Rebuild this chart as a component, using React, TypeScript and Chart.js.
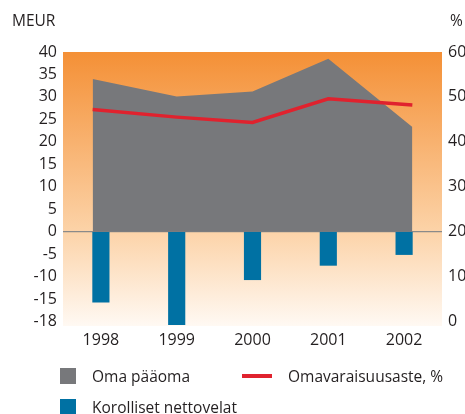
import React, { useEffect, useRef } from "react";
import { Chart, registerables } from "chart.js";

Chart.register(...registerables);

const years = ["1998", "1999", "2000", "2001", "2002"];
const equity = [34.0, 30.1, 31.2, 38.5, 23.3];
const netDebt = [-15.7, -20.7, -10.7, -7.5, -5.1];
const equityRatio = [47.2, 45.5, 44.3, 49.6, 48.2];
const leftTicks = [40, 35, 30, 25, 20, 15, 10, 5, 0, -5, -10, -15, -20];
const leftTickLabels = ["40", "35", "30", "25", "20", "15", "10", "5", "0", "-5", "-10", "-15", "-18"];
const rightTicks = [60, 50, 40, 30, 20, 10, 0];

const labelEquity = "Oma pääoma";
const labelDebt = "Korolliset nettovelat";
const labelRatio = "Omavaraisuusaste, %";

const GREY = "#77787b";
const BLUE = "#0071a3";
const RED = "#e0222e";
const FONT = "'Open Sans', 'Noto Sans', sans-serif";
const TEXT = "#231f20";

const bgPlugin = {
  id: "bgGradient",
  beforeDraw(chart: any) {
    const { ctx, chartArea } = chart;
    if (!chartArea) return;
    const { left, top, right, bottom } = chartArea;
    const g = ctx.createLinearGradient(0, top, 0, bottom);
    g.addColorStop(0, "rgb(244,144,54)");
    g.addColorStop(0.655, "rgb(252,211,168)");
    g.addColorStop(1, "rgb(255,249,243)");
    ctx.save();
    ctx.fillStyle = g;
    ctx.fillRect(left, top, right - left, bottom - top);
    ctx.restore();
  },
};

const edgePlugin = {
  id: "edgeExtend",
  afterDatasetsUpdate(chart: any) {
    const bars = chart.getDatasetMeta(0).data;
    if (!bars || !bars.length) return;
    const first = bars[0];
    const last = bars[bars.length - 1];
    [1, 2].forEach((i) => {
      const pts = chart.getDatasetMeta(i).data;
      if (!pts || !pts.length) return;
      pts[0].x = first.x - first.width / 2;
      pts[pts.length - 1].x = last.x + last.width / 2;
    });
  },
};

export default function App() {
  const ref = useRef<HTMLCanvasElement | null>(null);

  useEffect(() => {
    if (!ref.current) return;
    const chart = new Chart(ref.current, {
      type: "bar",
      data: {
        labels: years,
        datasets: [
          {
            type: "bar",
            label: labelDebt,
            data: netDebt,
            backgroundColor: BLUE,
            borderWidth: 0,
            barThickness: 16.5,
            yAxisID: "y",
            order: 1,
          },
          {
            type: "line",
            label: labelEquity,
            data: equity,
            backgroundColor: GREY,
            borderWidth: 0,
            fill: "origin",
            pointRadius: 0,
            tension: 0,
            yAxisID: "y",
            order: 3,
          },
          {
            type: "line",
            label: labelRatio,
            data: equityRatio,
            borderColor: RED,
            borderWidth: 3.5,
            fill: false,
            pointRadius: 0,
            tension: 0,
            yAxisID: "y1",
            order: 0,
          },
        ] as any,
      },
      options: {
        animation: false,
        responsive: false,
        events: [],
        layout: { padding: { top: 52, bottom: 60, left: 0, right: 0 } },
        plugins: {
          legend: { display: false },
          tooltip: { enabled: false },
        },
        scales: {
          x: {
            offset: true,
            grid: { display: false, drawTicks: false },
            border: { display: false },
            ticks: { color: TEXT, font: { family: FONT, size: 16 }, padding: 5 },
            afterFit: (s: any) => {
              s.height = 28;
            },
          },
          y: {
            position: "left",
            min: -21,
            max: 40,
            afterBuildTicks: (s: any) => {
              s.ticks = leftTicks.map((v) => ({ value: v }));
            },
            afterFit: (s: any) => {
              s.width = 63;
            },
            grid: {
              drawTicks: false,
              color: (c: any) => (c.tick && c.tick.value === 0 ? "#8a8a8a" : "rgba(0,0,0,0)"),
              lineWidth: 1.2,
            },
            border: { display: false },
            ticks: {
              color: TEXT,
              font: { family: FONT, size: 16 },
              padding: 6,
              autoSkip: false,
              callback: (v: any) => {
                const i = leftTicks.indexOf(Number(v));
                return i >= 0 ? leftTickLabels[i] : "";
              },
            },
          },
          y1: {
            position: "right",
            min: -1,
            max: 60,
            afterBuildTicks: (s: any) => {
              s.ticks = rightTicks.map((v) => ({ value: v }));
            },
            afterFit: (s: any) => {
              s.width = 23;
            },
            grid: { display: false, drawTicks: false },
            border: { display: false },
            ticks: {
              color: TEXT,
              font: { family: FONT, size: 16 },
              padding: 6,
              autoSkip: false,
              align: "center",
            },
          },
        },
      } as any,
      plugins: [bgPlugin, edgePlugin],
    });
    return () => chart.destroy();
  }, []);

  const textStyle: React.CSSProperties = {
    position: "absolute",
    fontFamily: FONT,
    fontSize: 15.5,
    color: TEXT,
    lineHeight: "16px",
    whiteSpace: "nowrap",
  };

  return (
    <div style={{ position: "absolute", left: 0, top: 0, width: 465, height: 414, overflow: "hidden", background: "#fff" }}>
      <canvas ref={ref} width={465} height={414} style={{ position: "absolute", left: 0, top: 0 }} />
      <div style={{ ...textStyle, left: 12, top: 12 }}>MEUR</div>
      <div style={{ ...textStyle, left: 450, top: 12 }}>%</div>
      <div style={{ position: "absolute", left: 60, top: 368, width: 16, height: 16, background: GREY }} />
      <div style={{ ...textStyle, left: 92, top: 368 }}>{labelEquity}</div>
      <div style={{ position: "absolute", left: 242, top: 374, width: 30, height: 4, background: RED }} />
      <div style={{ ...textStyle, left: 288, top: 368 }}>{labelRatio}</div>
      <div style={{ position: "absolute", left: 60, top: 399, width: 16, height: 16, background: BLUE }} />
      <div style={{ ...textStyle, left: 92, top: 399 }}>{labelDebt}</div>
    </div>
  );
}
